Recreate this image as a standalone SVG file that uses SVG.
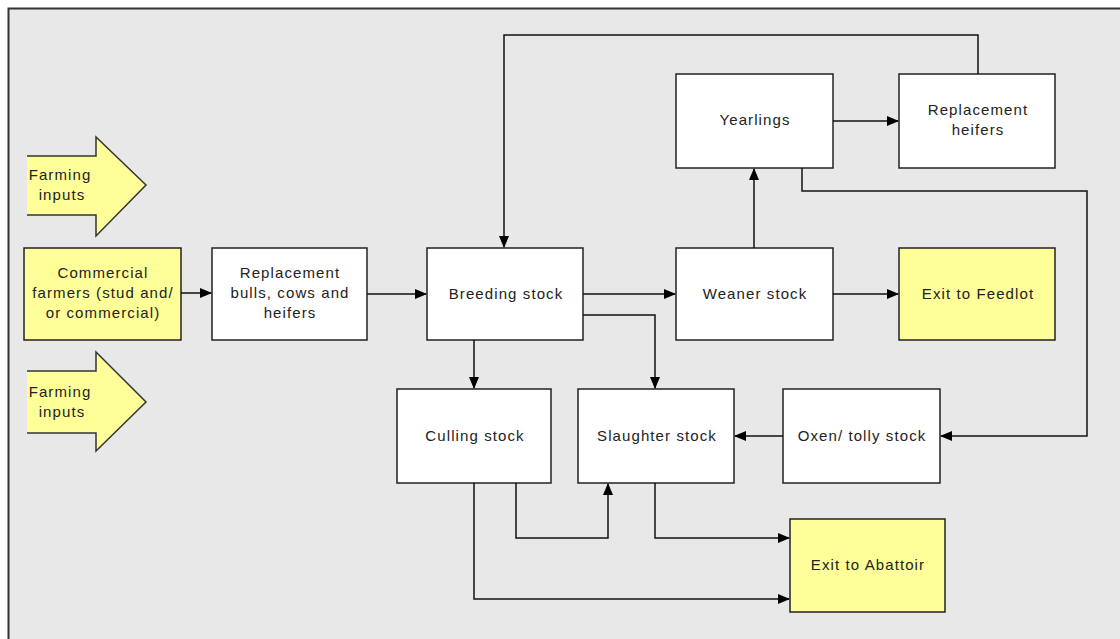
<svg xmlns="http://www.w3.org/2000/svg" width="1120" height="639" viewBox="0 0 1120 639">
<defs>
<marker id="ah" markerWidth="12" markerHeight="10" refX="11" refY="5" orient="auto" markerUnits="userSpaceOnUse">
<path d="M0,0 L12,5 L0,10 Z" fill="#000"/>
</marker>
<style>
.box{fill:#fff;stroke:#222;stroke-width:1.5}
.ybox{fill:#ffff99;stroke:#222;stroke-width:1.5}
.t{font-family:"Liberation Sans",Arial,sans-serif;font-size:15px;letter-spacing:1.1px;fill:#222;text-anchor:middle}
.c{fill:none;stroke:#111;stroke-width:1.5}
.ya{fill:#ffff99;stroke:none}
.yo{fill:none;stroke:#333;stroke-width:1.5;stroke-linejoin:miter}
</style>
</defs>
<rect x="0" y="0" width="1120" height="639" fill="#fff"/>
<rect x="8.5" y="8.5" width="1120" height="640" fill="#e8e8e8" stroke="#333" stroke-width="2"/>

<g id="farming-inputs-1">
<polygon class="ya" points="27,156 96,156 96,137 146,185 96,236 96,215 27,215"/>
<polyline class="yo" points="27,156 96,156 96,137 146,185 96,236 96,215 27,215"/>
<text class="t" x="60" y="180">Farming</text>
<text class="t" x="62" y="200">inputs</text>
</g>
<g id="farming-inputs-2">
<polygon class="ya" points="27,371 96,371 96,352 146,402 96,451 96,433 27,433"/>
<polyline class="yo" points="27,371 96,371 96,352 146,402 96,451 96,433 27,433"/>
<text class="t" x="60" y="397">Farming</text>
<text class="t" x="62" y="417">inputs</text>
</g>

<g id="commercial-farmers">
<rect class="ybox" x="24" y="248" width="157" height="92"/>
<text class="t" x="103" y="278">Commercial</text>
<text class="t" x="103" y="298">farmers (stud and/</text>
<text class="t" x="103" y="318">or commercial)</text>
</g>
<g id="replacement-bulls">
<rect class="box" x="212" y="248" width="155" height="92"/>
<text class="t" x="290" y="278">Replacement</text>
<text class="t" x="290" y="298">bulls, cows and</text>
<text class="t" x="290" y="318">heifers</text>
</g>
<g id="breeding-stock">
<rect class="box" x="427" y="248" width="156" height="92"/>
<text class="t" x="506" y="299">Breeding stock</text>
</g>
<g id="weaner-stock">
<rect class="box" x="676" y="248" width="157" height="92"/>
<text class="t" x="755" y="299">Weaner stock</text>
</g>
<g id="exit-feedlot">
<rect class="ybox" x="899" y="248" width="156" height="92"/>
<text class="t" x="978" y="299">Exit to Feedlot</text>
</g>
<g id="yearlings">
<rect class="box" x="676" y="74" width="157" height="94"/>
<text class="t" x="755" y="125">Yearlings</text>
</g>
<g id="replacement-heifers">
<rect class="box" x="899" y="74" width="156" height="94"/>
<text class="t" x="978" y="115">Replacement</text>
<text class="t" x="978" y="135">heifers</text>
</g>
<g id="culling-stock">
<rect class="box" x="397" y="389" width="154" height="94"/>
<text class="t" x="475" y="441">Culling stock</text>
</g>
<g id="slaughter-stock">
<rect class="box" x="578" y="389" width="156" height="94"/>
<text class="t" x="657" y="441">Slaughter stock</text>
</g>
<g id="oxen-tolly-stock">
<rect class="box" x="783" y="389" width="157" height="94"/>
<text class="t" x="862" y="441">Oxen/ tolly stock</text>
</g>
<g id="exit-abattoir">
<rect class="ybox" x="790" y="519" width="155" height="93"/>
<text class="t" x="868" y="570">Exit to Abattoir</text>
</g>

<g id="connectors">
<path class="c" d="M181,293 H211" marker-end="url(#ah)"/>
<path class="c" d="M367,294 H426" marker-end="url(#ah)"/>
<path class="c" d="M583,294 H675" marker-end="url(#ah)"/>
<path class="c" d="M833,294 H898" marker-end="url(#ah)"/>
<path class="c" d="M754,248 V169" marker-end="url(#ah)"/>
<path class="c" d="M833,121 H898" marker-end="url(#ah)"/>
<path class="c" d="M978,74 V35 H504 V247" marker-end="url(#ah)"/>
<path class="c" d="M583,315 H655 V388" marker-end="url(#ah)"/>
<path class="c" d="M474,340 V388" marker-end="url(#ah)"/>
<path class="c" d="M802,168 V191 H1087 V436 H941" marker-end="url(#ah)"/>
<path class="c" d="M783,436 H735" marker-end="url(#ah)"/>
<path class="c" d="M516,483 V538 H608 V484" marker-end="url(#ah)"/>
<path class="c" d="M655,483 V538 H789" marker-end="url(#ah)"/>
<path class="c" d="M474,483 V599 H789" marker-end="url(#ah)"/>
</g>
</svg>
